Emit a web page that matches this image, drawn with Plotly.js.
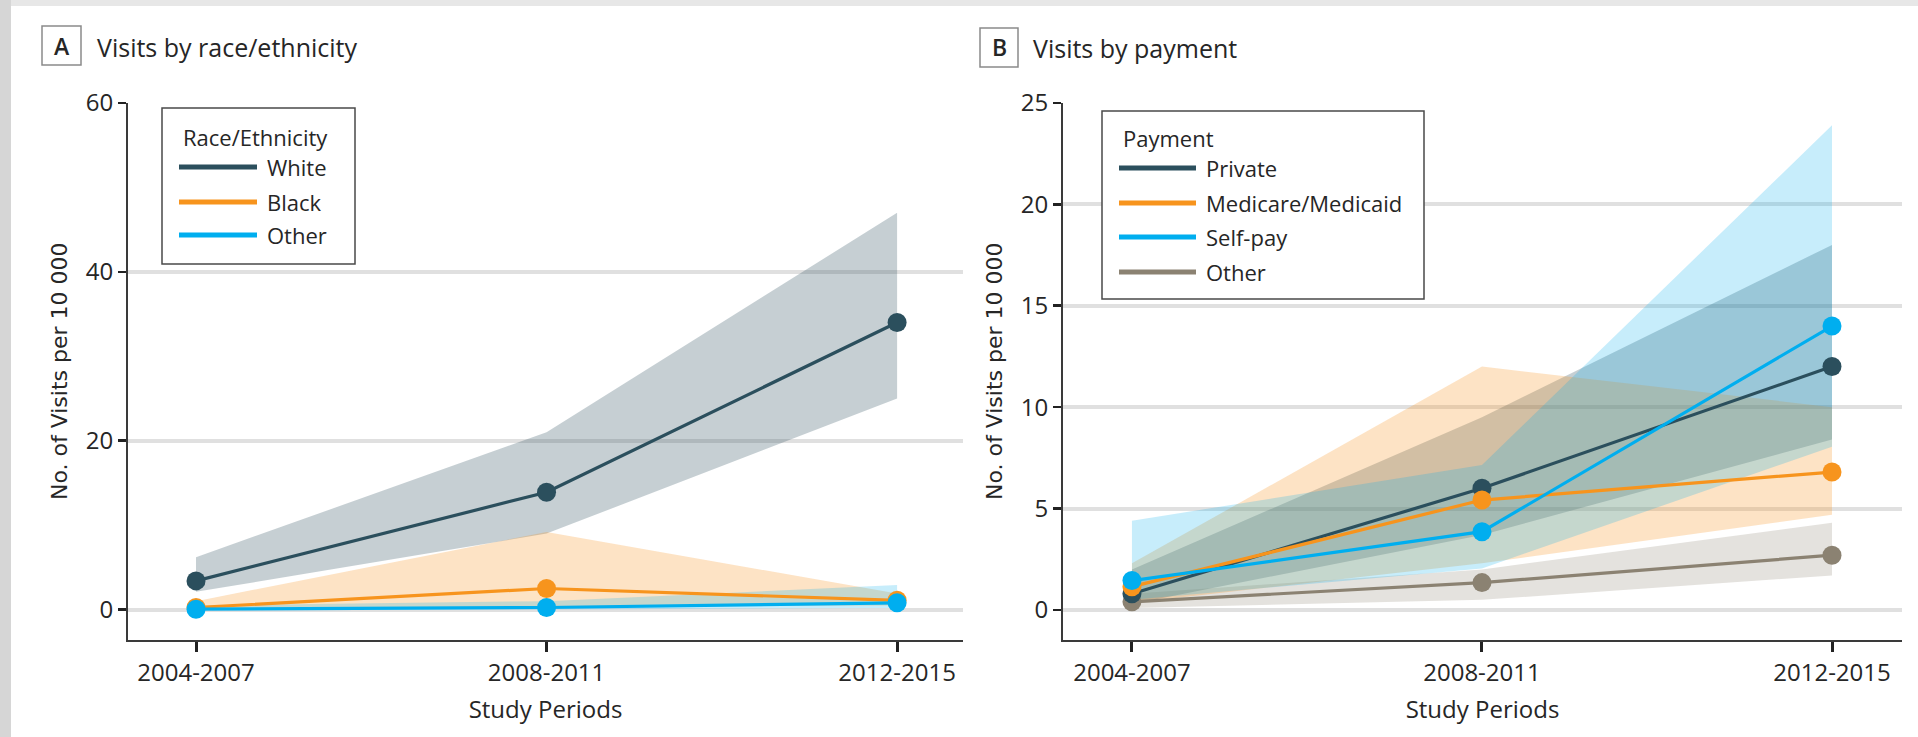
<!DOCTYPE html>
<html>
<head>
<meta charset="utf-8">
<script src="https://cdn.plot.ly/plotly-3.0.1.min.js"></script>
<style>
  html, body { margin: 0; padding: 0; background: #ffffff; }
  #chart { width: 1918px; height: 737px; }
</style>
</head>
<body>
<div id="chart"></div>
<script>
// ---------------- DATA ----------------
const periods = ['2004-2007', '2008-2011', '2012-2015'];

// Panel A: visits by race/ethnicity (per 10 000)
const whiteVals = [3.4, 13.9, 34.0];
const whiteLo   = [2.1, 9.0, 25.0];
const whiteHi   = [6.2, 21.0, 47.0];

const blackVals = [0.25, 2.5, 1.1];
const blackLo   = [0.0, 0.3, 0.5];
const blackHi   = [1.0, 9.2, 1.9];

const otherAVals = [0.05, 0.25, 0.8];
const otherALo   = [0.0, 0.0, 0.2];
const otherAHi   = [0.5, 1.0, 2.9];

// Panel B: visits by payment (per 10 000)
const privateVals = [0.8, 6.0, 12.0];
const privateLo   = [0.3, 3.7, 8.4];
const privateHi   = [2.0, 9.5, 18.0];

const medicVals = [1.15, 5.42, 6.8];
const medicLo   = [0.35, 2.3, 4.7];
const medicHi   = [2.3, 12.0, 10.0];

const selfVals = [1.45, 3.86, 14.0];
const selfLo   = [0.5, 2.05, 8.05];
const selfHi   = [4.4, 7.15, 23.9];

const otherBVals = [0.4, 1.35, 2.7];
const otherBLo   = [0.1, 0.5, 1.7];
const otherBHi   = [0.8, 2.0, 4.3];

const yTicksA = [0, 20, 40, 60];
const yTicksB = [0, 5, 10, 15, 20, 25];

const raceNames = ['White', 'Black', 'Other'];
const payNames  = ['Private', 'Medicare/Medicaid', 'Self-pay', 'Other'];

// ---------------- STYLE ----------------
const W = 1918, H = 737;
const C_DARK = '#2b4f5d', C_ORANGE = '#f7941d', C_BLUE = '#00aeef', C_GRAY = '#8b8272';
function rgba(hex, a) {
  const n = parseInt(hex.slice(1), 16);
  return `rgba(${(n >> 16) & 255},${(n >> 8) & 255},${n & 255},${a})`;
}
const BAND_A = {};
BAND_A[C_DARK] = 0.27; BAND_A[C_ORANGE] = 0.26; BAND_A[C_BLUE] = 0.22; BAND_A[C_GRAY] = 0.23;

const FONT = 'Open Sans, Lato, sans-serif';
const TXT = '#262626';
const px = x => x / W;
const py = y => 1 - y / H;

function band(lo, hi, color, xa, ya) {
  return {
    type: 'scatter', mode: 'lines', xaxis: xa, yaxis: ya,
    x: periods.concat(periods.slice().reverse()),
    y: hi.concat(lo.slice().reverse()),
    fill: 'toself', fillcolor: rgba(color, BAND_A[color]),
    line: { width: 0, color: 'rgba(0,0,0,0)' },
    hoverinfo: 'skip', showlegend: false
  };
}
function line(vals, color, name, xa, ya) {
  return {
    type: 'scatter', mode: 'lines+markers', xaxis: xa, yaxis: ya, name: name,
    x: periods, y: vals,
    line: { color: color, width: 3.2 },
    marker: { color: color, size: 19 },
    showlegend: false
  };
}

const traces = [
  band(whiteLo, whiteHi, C_DARK, 'x', 'y'),
  band(blackLo, blackHi, C_ORANGE, 'x', 'y'),
  band(otherALo, otherAHi, C_BLUE, 'x', 'y'),
  band(otherBLo, otherBHi, C_GRAY, 'x2', 'y2'),
  band(privateLo, privateHi, C_DARK, 'x2', 'y2'),
  band(medicLo, medicHi, C_ORANGE, 'x2', 'y2'),
  band(selfLo, selfHi, C_BLUE, 'x2', 'y2'),
  line(whiteVals, C_DARK, raceNames[0], 'x', 'y'),
  line(blackVals, C_ORANGE, raceNames[1], 'x', 'y'),
  line(otherAVals, C_BLUE, raceNames[2], 'x', 'y'),
  line(otherBVals, C_GRAY, payNames[3], 'x2', 'y2'),
  line(privateVals, C_DARK, payNames[0], 'x2', 'y2'),
  line(medicVals, C_ORANGE, payNames[1], 'x2', 'y2'),
  line(selfVals, C_BLUE, payNames[2], 'x2', 'y2')
];

const yDomain = [1 - 640 / H, 1 - 102.5 / H];

function xAxis(domain, range, anchor) {
  return {
    domain: domain, range: range, anchor: anchor, type: 'category',
    showgrid: false, zeroline: false,
    showline: true, linecolor: '#3a3a3a', linewidth: 2,
    ticks: 'outside', ticklen: 10, tickwidth: 3, tickcolor: '#222',
    tickfont: { family: FONT, size: 24, color: TXT },
    title: { text: 'Study Periods', font: { family: FONT, size: 24, color: TXT }, standoff: 14 },
    fixedrange: true
  };
}
function yAxis(range, ticks, anchor) {
  return {
    domain: yDomain, range: range, anchor: anchor,
    tickmode: 'array', tickvals: ticks, ticktext: ticks.map(String),
    showgrid: true, gridcolor: '#e0e0e0', gridwidth: 4,
    zeroline: false,
    showline: true, linecolor: '#3a3a3a', linewidth: 2,
    ticks: 'outside', ticklen: 8, tickwidth: 2.5, tickcolor: '#222',
    tickfont: { family: FONT, size: 24, color: TXT },
    title: { text: 'No. of Visits per 10 000', font: { family: 'DejaVu Sans, Verdana, sans-serif', size: 22, color: TXT }, standoff: 12 },
    fixedrange: true
  };
}

const shapes = [
  // grey frame bands
  { type: 'rect', xref: 'paper', yref: 'paper', x0: 0, x1: 1, y0: py(6), y1: 1, fillcolor: '#e7e7e7', line: { width: 0 }, layer: 'below' },
  { type: 'rect', xref: 'paper', yref: 'paper', x0: 0, x1: px(11), y0: 0, y1: 1, fillcolor: '#d6d6d6', line: { width: 0 }, layer: 'below' },
  // panel label boxes
  { type: 'rect', xref: 'paper', yref: 'paper', x0: px(42), x1: px(81), y0: py(65), y1: py(26), line: { color: '#8a8a8a', width: 1.5 }, fillcolor: 'rgba(0,0,0,0)' },
  { type: 'rect', xref: 'paper', yref: 'paper', x0: px(980), x1: px(1018), y0: py(67), y1: py(28), line: { color: '#8a8a8a', width: 1.5 }, fillcolor: 'rgba(0,0,0,0)' },
  // legend boxes
  { type: 'rect', xref: 'paper', yref: 'paper', x0: px(162), x1: px(355), y0: py(264), y1: py(108), line: { color: '#4a4a4a', width: 1.5 }, fillcolor: '#ffffff' },
  { type: 'rect', xref: 'paper', yref: 'paper', x0: px(1102), x1: px(1424), y0: py(299), y1: py(111), line: { color: '#4a4a4a', width: 1.5 }, fillcolor: '#ffffff' }
];

const annotations = [
  { text: 'A', xref: 'paper', yref: 'paper', x: px(61.5), y: py(46), xanchor: 'center', yanchor: 'middle', showarrow: false, font: { family: FONT, size: 23, color: TXT, weight: 600 } },
  { text: 'Visits by race/ethnicity', xref: 'paper', yref: 'paper', x: px(95), y: py(47), xanchor: 'left', yanchor: 'middle', showarrow: false, font: { family: FONT, size: 25, color: TXT } },
  { text: 'B', xref: 'paper', yref: 'paper', x: px(999), y: py(47.5), xanchor: 'center', yanchor: 'middle', showarrow: false, font: { family: FONT, size: 23, color: TXT, weight: 600 } },
  { text: 'Visits by payment', xref: 'paper', yref: 'paper', x: px(1031), y: py(48), xanchor: 'left', yanchor: 'middle', showarrow: false, font: { family: FONT, size: 25, color: TXT } }
];

function addLegend(x0Line, x1Line, xText, yTitle, title, names, colors, ys) {
  annotations.push({ text: title, xref: 'paper', yref: 'paper', x: px(x0Line + 2), y: py(yTitle), xanchor: 'left', yanchor: 'middle', showarrow: false, font: { family: FONT, size: 22, color: TXT } });
  names.forEach((n, i) => {
    shapes.push({ type: 'line', xref: 'paper', yref: 'paper', x0: px(x0Line), x1: px(x1Line), y0: py(ys[i]), y1: py(ys[i]), line: { color: colors[i], width: 5 } });
    annotations.push({ text: n, xref: 'paper', yref: 'paper', x: px(xText), y: py(ys[i]), xanchor: 'left', yanchor: 'middle', showarrow: false, font: { family: FONT, size: 22, color: TXT } });
  });
}
addLegend(179, 257, 265, 137, 'Race/Ethnicity', raceNames, [C_DARK, C_ORANGE, C_BLUE], [167, 202, 235]);
addLegend(1119, 1196, 1204, 138, 'Payment', payNames, [C_DARK, C_ORANGE, C_BLUE, C_GRAY], [168, 203, 237, 272]);

const layout = {
  width: W, height: H, autosize: false,
  margin: { l: 0, r: 0, t: 0, b: 0, pad: 0 },
  paper_bgcolor: '#ffffff', plot_bgcolor: 'rgba(0,0,0,0)',
  showlegend: false,
  xaxis: xAxis([128 / W, 963 / W], [-0.194, 2.188], 'y'),
  yaxis: yAxis([-3.6, 60.05], yTicksA, 'x'),
  xaxis2: xAxis([1063 / W, 1902 / W], [-0.197, 2.2], 'y2'),
  yaxis2: yAxis([-1.48, 25.02], yTicksB, 'x2'),
  shapes: shapes,
  annotations: annotations,
  hovermode: false
};

Plotly.newPlot('chart', traces, layout, { displayModeBar: false, staticPlot: true });
</script>
</body>
</html>
